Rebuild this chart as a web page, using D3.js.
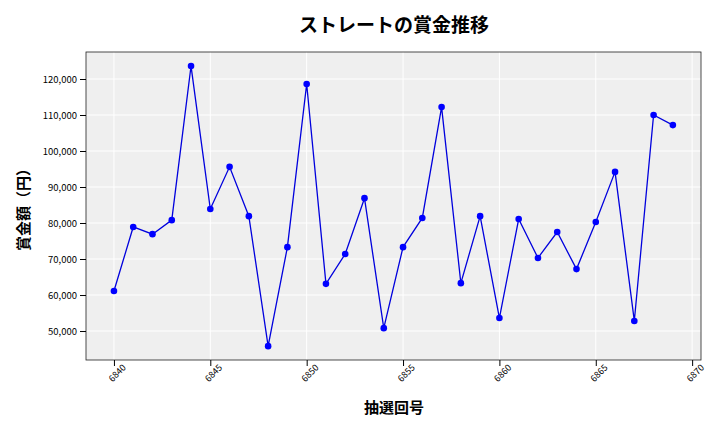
<!DOCTYPE html>
<html><head><meta charset="utf-8">
<script src="https://cdn.jsdelivr.net/npm/d3@7"></script>
<style>body{margin:0;background:#fff}text{font-family:"Noto Sans CJK JP","DejaVu Sans",sans-serif}</style>
</head><body><div id="chart"></div>
<script>
// data
const draws = d3.range(6840, 6870);
const prizes = [61100,78900,76900,80800,123600,83900,95600,81900,45800,73300,
  118600,63100,71400,86900,50800,73300,81400,112200,63300,81900,
  53600,81100,70300,77500,67200,80300,94200,52800,110000,107200];
const xTicks = [6840,6845,6850,6855,6860,6865,6870];
const yTicks = [50000,60000,70000,80000,90000,100000,110000,120000];

const margin = {top: 52, right: 19, bottom: 72, left: 86};
const width = 720 - margin.left - margin.right;
const height = 432 - margin.top - margin.bottom;

const root = d3.select('#chart').append('svg').attr('width', 720).attr('height', 432);
const svg = root.append('g').attr('transform', 'translate(' + margin.left + ',' + margin.top + ')');

const x = d3.scaleLinear().domain([6838.55, 6870.46]).range([0, width]);
const y = d3.scaleLinear().domain([41950, 127500]).range([height, 0]);

svg.append('rect').attr('width', width).attr('height', height).attr('fill', '#efefef');

// grid
svg.selectAll('.gx').data(xTicks).enter().append('line')
  .attr('x1', d => x(d)).attr('x2', d => x(d)).attr('y1', 0).attr('y2', height)
  .attr('stroke', '#fff').attr('stroke-width', 1);
svg.selectAll('.gy').data(yTicks).enter().append('line')
  .attr('y1', d => y(d)).attr('y2', d => y(d)).attr('x1', 0).attr('x2', width)
  .attr('stroke', '#fff').attr('stroke-width', 1);

svg.append('rect').attr('width', width).attr('height', height)
  .attr('fill', 'none').attr('stroke', '#222').attr('stroke-width', 0.8);

const xAxis = svg.append('g').attr('transform', 'translate(0,' + height + ')')
  .call(d3.axisBottom(x).tickValues(xTicks).tickFormat(d3.format('d')).tickSizeOuter(0));
xAxis.selectAll('text').attr('font-size', 9).attr('text-anchor', 'end')
  .attr('dx', '0.3em').attr('dy', '0.6em').attr('transform', 'rotate(-45)');
const yAxis = svg.append('g')
  .call(d3.axisLeft(y).tickValues(yTicks).tickFormat(d3.format(',')).tickSizeOuter(0));
yAxis.selectAll('text').attr('font-size', 9.5);
svg.selectAll('.domain').remove();

const line = d3.line().x((d, i) => x(draws[i])).y(d => y(d));
svg.append('path').datum(prizes).attr('d', line)
  .attr('fill', 'none').attr('stroke', '#0000dd').attr('stroke-width', 1.3);
svg.selectAll('.pt').data(prizes).enter().append('circle')
  .attr('cx', (d, i) => x(draws[i])).attr('cy', d => y(d)).attr('r', 3.3).attr('fill', '#0000ff');

root.append('text').attr('x', 394).attr('y', 32).attr('text-anchor', 'middle')
  .attr('font-size', 19).attr('font-weight', 'bold').text('ストレートの賞金推移');
root.append('text').attr('x', 394).attr('y', 413).attr('text-anchor', 'middle')
  .attr('font-size', 15).attr('font-weight', 'bold').text('抽選回号');
root.append('text').attr('transform', 'translate(29,206) rotate(-90)').attr('text-anchor', 'middle')
  .attr('font-size', 15).attr('font-weight', 'bold').text('賞金額（円）');
</script></body></html>
